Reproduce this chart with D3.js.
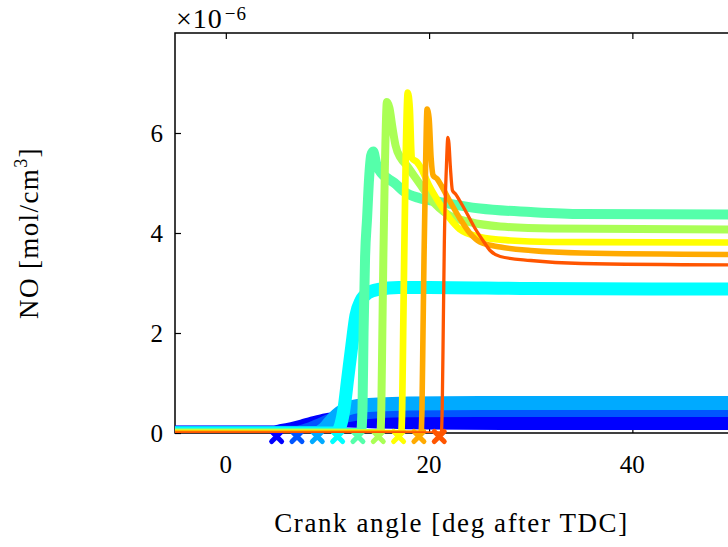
<!DOCTYPE html>
<html>
<head>
<meta charset="utf-8">
<script src="https://cdn.jsdelivr.net/npm/d3@7"></script>
<style>
  html, body { margin: 0; padding: 0; background: #fff; }
  svg { display: block; }
  text { font-family: "Liberation Serif", "Times New Roman", serif; fill: #000; }
</style>
</head>
<body>
<svg id="chart" width="728" height="547"></svg>
<script>
// NO concentration (units of 1e-6 mol/cm^3) versus crank angle, nine cases
const seriesColors = ["#0000ff", "#0055ff", "#00aaff", "#00ffff", "#55ffaa", "#aaff55", "#ffff00", "#ffaa00", "#ff5500"];

// marker angles (one per case) and the level they sit at
const markerAngles = [5, 7, 9, 11, 13, 15, 17, 19, 21];
const markerLevel = -0.07;

const angle1 = [-5, 4.5, 5.5, 6.5, 7.5, 8.5, 9.5, 10.5, 12, 15, 20, 30, 50];
const no1    = [0, 0, 0.03, 0.07, 0.12, 0.18, 0.23, 0.26, 0.26, 0.24, 0.22, 0.21, 0.21];

const angle2 = [-5, 7, 8, 9, 10, 11, 12, 13, 15, 18, 25, 50];
const no2    = [0, 0, 0.05, 0.13, 0.22, 0.3, 0.36, 0.4, 0.44, 0.46, 0.465, 0.465];

const angle3 = [-5, 9, 9.5, 10, 10.5, 11, 11.5, 12, 13, 15, 18, 25, 50];
const no3    = [0, 0, 0.05, 0.15, 0.27, 0.37, 0.44, 0.49, 0.54, 0.57, 0.59, 0.6, 0.6];

const angle4 = [-5, 10.8, 11.2, 11.6, 12.0, 12.4, 12.8, 13.3, 14, 15, 17, 20, 30, 50];
const no4    = [0, 0, 0.1, 0.45, 1.1, 1.75, 2.35, 2.65, 2.8, 2.87, 2.91, 2.91, 2.89, 2.88];

const angle5 = [-5, 13.3, 13.45, 13.55, 13.7, 13.9, 14.1, 14.3, 14.5, 14.8, 15.3, 16, 16.6, 17.6, 19, 20.8, 25, 30, 35, 50];
const no5    = [0, 0, 0.5, 2, 3.5, 4.3, 5.1, 5.55, 5.63, 5.38, 5.2, 5.08, 5.0, 4.82, 4.7, 4.63, 4.49, 4.42, 4.38, 4.37];

const angle6 = [-5, 15.2, 15.3, 15.4, 15.5, 15.65, 15.85, 16.1, 16.4, 16.7, 17.2, 17.8, 18.5, 19.2, 20, 21, 22, 24, 27, 32, 50];
const no6    = [0, 0, 0.5, 2, 3.5, 5.3, 6.62, 6.5, 6.1, 5.75, 5.5, 5.35, 5.15, 4.95, 4.72, 4.5, 4.35, 4.22, 4.13, 4.09, 4.07];

const angle7 = [-5, 17.25, 17.35, 17.45, 17.55, 17.7, 17.9, 18.1, 18.3, 18.8, 19.2, 20, 21, 22, 23, 25, 28, 32, 50];
const no7    = [0, 0, 0.5, 2, 3.5, 5.5, 6.81, 6.5, 5.5, 5.42, 5.3, 4.95, 4.6, 4.3, 4.08, 3.92, 3.85, 3.82, 3.81];

const angle8 = [-5, 19.2, 19.3, 19.4, 19.5, 19.65, 19.8, 20.0, 20.2, 20.4, 20.8, 21.2, 22, 23, 24, 25, 27, 30, 35, 50];
const no8    = [0, 0, 0.5, 2, 3.5, 5.3, 6.48, 6.3, 5.5, 5.15, 5.08, 4.95, 4.65, 4.3, 4.0, 3.82, 3.72, 3.65, 3.6, 3.57];

const angle9 = [-5, 21.2, 21.3, 21.4, 21.5, 21.7, 21.85, 21.95, 22.1, 22.3, 22.6, 23, 23.7, 24.5, 25.3, 26, 27, 30, 35, 50];
const no9    = [0, 0, 0.6, 2.2, 3.8, 5.3, 5.91, 5.8, 5.3, 4.85, 4.78, 4.65, 4.4, 4.1, 3.85, 3.65, 3.53, 3.45, 3.39, 3.36];

const xTicks = [0, 20, 40];
const yTicks = [0, 2, 4, 6];

const angles = [angle1, angle2, angle3, angle4, angle5, angle6, angle7, angle8, angle9];
const values = [no1, no2, no3, no4, no5, no6, no7, no8, no9];
const lineWidths = [15, 14.5, 14, 13, 10, 8, 6.7, 5.6, 3.3];

const svg = d3.select("#chart");
const plotLeft = 175, plotRight = 734, plotTop = 33, plotBottom = 433;

const x = d3.scaleLinear().domain([-5, 50]).range([plotLeft, plotRight]);
const y = d3.scaleLinear().domain([0, 8]).range([plotBottom, plotTop]);

// axes box (drawn beneath the data)
const axesG = svg.append("g");
axesG.append("rect")
  .attr("x", plotLeft).attr("y", plotTop)
  .attr("width", plotRight - plotLeft).attr("height", plotBottom - plotTop)
  .attr("fill", "none").attr("stroke", "#000").attr("stroke-width", 1.5);

const xAxisBottom = d3.axisBottom(x).tickValues(xTicks).tickSize(-6).tickFormat("");
const xAxisTop = d3.axisTop(x).tickValues(xTicks).tickSize(-6).tickFormat("");
const yAxisLeft = d3.axisLeft(y).tickValues(yTicks).tickSize(-6).tickFormat("");
[
  axesG.append("g").attr("transform", `translate(0,${plotBottom})`).call(xAxisBottom),
  axesG.append("g").attr("transform", `translate(0,${plotTop})`).call(xAxisTop),
  axesG.append("g").attr("transform", `translate(${plotLeft},0)`).call(yAxisLeft)
].forEach(g => {
  g.select(".domain").remove();
  g.selectAll(".tick line").attr("stroke", "#000").attr("stroke-width", 1.2);
});

// tick labels
svg.append("g").selectAll("text").data(xTicks).join("text")
  .attr("x", d => x(d)).attr("y", 473)
  .attr("text-anchor", "middle").attr("font-size", 25)
  .text(d => d);
svg.append("g").selectAll("text").data(yTicks).join("text")
  .attr("x", 163).attr("y", d => y(d) + 8.5)
  .attr("text-anchor", "end").attr("font-size", 25)
  .text(d => d);

// exponent label
const expo = svg.append("text").attr("x", 176).attr("y", 28).attr("font-size", 28).attr("letter-spacing", 1);
expo.append("tspan").text("\u00d710");
expo.append("tspan").attr("dy", -8).attr("font-size", 19).attr("dx", 2).text("\u22126");

// axis titles
svg.append("text")
  .attr("x", (plotLeft + plotRight) / 2 - 3).attr("y", 532)
  .attr("text-anchor", "middle").attr("font-size", 27).attr("letter-spacing", 1.6)
  .text("Crank angle [deg after TDC]");
const yl = svg.append("text")
  .attr("transform", `translate(38,${(plotTop + plotBottom) / 2}) rotate(-90)`)
  .attr("text-anchor", "middle").attr("font-size", 27).attr("letter-spacing", 1.4);
yl.append("tspan").text("NO [mol/cm");
yl.append("tspan").attr("dy", -11).attr("font-size", 18).text("3");
yl.append("tspan").attr("dy", 11).text("]");

// data area clip
svg.append("clipPath").attr("id", "plotClip")
  .append("rect").attr("x", plotLeft).attr("y", plotTop)
  .attr("width", plotRight - plotLeft).attr("height", plotBottom - plotTop);

const line = d3.line()
  .x(d => x(d[0])).y(d => y(d[1]))
  .curve(d3.curveMonotoneX);

const dataG = svg.append("g");
angles.forEach((a, i) => {
  const pts = a.map((v, k) => [v, values[i][k]]);
  dataG.append("path")
    .attr("clip-path", "url(#plotClip)")
    .attr("d", line(pts))
    .attr("fill", "none")
    .attr("stroke", seriesColors[i])
    .attr("stroke-width", lineWidths[i])
    .attr("stroke-linejoin", "round");
  const mx = x(markerAngles[i]), my = y(markerLevel), s = 5;
  dataG.append("path")
    .attr("d", `M${mx - s},${my - s}L${mx + s},${my + s}M${mx - s},${my + s}L${mx + s},${my - s}`)
    .attr("stroke", seriesColors[i])
    .attr("stroke-width", 5)
    .attr("stroke-linecap", "round")
    .attr("fill", "none");
});
</script>
</body>
</html>
